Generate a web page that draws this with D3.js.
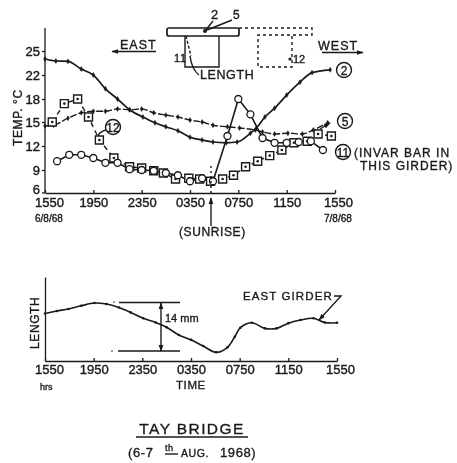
<!DOCTYPE html>
<html lang="en">
<head>
<meta charset="UTF-8">
<title>Tay Bridge</title>
<script src="https://d3js.org/d3.v7.min.js"></script>
<style>
    body { margin: 0; background: #fff; }
    svg { display: block; filter: blur(0.45px); }
    text { font-family: "Liberation Sans", sans-serif; fill: #1a1a1a; font-weight: 700; }
    .axis path, .axis line { stroke: #1a1a1a; stroke-width: 1.3; }
    .axis text { font-size: 13px; font-weight: 400; stroke: #1a1a1a; stroke-width: 0.4; }
    .ink { fill: none; stroke: #1a1a1a; stroke-width: 1.4; }
    .note { font-size: 12px; font-weight: 400; stroke: #1a1a1a; stroke-width: 0.35; letter-spacing: 0.6px; }
</style>
</head>
<body>
<div id="chart"></div>
<script>
    // hours after 1550 on 6/8/68
    const timeTicks = [0, 4, 8, 12, 16, 20, 24];
    const timeLabels = ["1550", "1950", "2350", "0350", "0750", "1150", "1550"];
    const tempTicks = [6, 9, 12, 15, 18, 22, 25];

    const hours2 = [0, 0.9, 1.9, 3, 4, 5, 6, 7, 8.1, 9.1, 10, 11, 12, 13, 13.9, 15, 15.9, 17, 17.5, 18.2, 19, 20, 21.1, 22.1, 23.6];
    const temp2 = [24, 23.75, 23.7, 22.75, 22, 19.7, 18, 16.6, 15.65, 14.9, 14.4, 13.9, 13.1, 12.75, 12.5, 12.4, 12.5, 13.6, 14.25, 15.65, 16.8, 18.65, 20.8, 22.3, 22.65];

    const hours5 = [0, 0.7, 1.9, 3, 4, 5, 6, 7, 8, 9, 10, 11, 12, 13, 13.9, 15.1, 16.1, 17.4, 18, 19, 20.1, 21.3, 22.2, 23.4];
    const temp5 = [14.5, 14.6, 15.5, 16.2, 16.4, 16.4, 16.7, 16.6, 16.7, 16.2, 15.9, 15.65, 15.25, 15, 14.6, 14.4, 14.25, 14, 13.75, 13.5, 13.6, 13.5, 14, 14.9];

    const hours11 = [1, 2, 3, 4, 5, 6, 7, 8, 9, 10, 11, 12, 13, 13.9, 15.1, 16, 17, 18, 19, 20, 21, 22, 23];
    const temp11 = [10.1, 10.9, 10.9, 10.5, 9.9, 9.9, 9.1, 9, 8.9, 8.6, 8.3, 7.5, 7.9, 7.5, 13.25, 18, 16, 13, 12.4, 12.4, 12.5, 12.6, 11.5];

    const hours12 = [0.6, 1.6, 2.7, 3.6, 4.5, 5.7, 7, 8, 9, 9.8, 10.8, 11.9, 12.8, 13.7, 14.7, 15.6, 16.6, 17.6, 18.6, 19.6, 20.6, 21.7, 22.6, 23.7];
    const temp12 = [15, 17.4, 18, 15.65, 12.75, 10.5, 9.4, 9.25, 8.9, 8.6, 7.8, 7.9, 7.8, 7.5, 7.8, 8.3, 9.4, 10.1, 10.8, 11.5, 12.4, 12.6, 13.5, 13.25];

    const lengthHours = [0, 0.97, 1.93, 2.98, 4.06, 5.05, 6.07, 7.04, 8.08, 9.1, 10, 11, 12, 13, 14.07, 15, 15.6, 16.06, 17, 18.07, 19.04, 20, 21, 22.07, 23, 24];
    const lengthMm = [10.8, 11.5, 12.1, 13, 13.8, 13.5, 12.5, 11.1, 9.4, 8.2, 6.8, 4.6, 3.2, 1.4, -0.4, 1.05, 4.1, 6.7, 8.1, 6.5, 6.5, 8, 8.9, 9.4, 8.2, 8.1];

    const width = 457;
    const height = 463;

    const svg = d3.select("#chart").append("svg")
        .attr("width", width)
        .attr("height", height);

    svg.append("defs").append("marker")
        .attr("id", "arrow")
        .attr("viewBox", "0 0 10 10")
        .attr("refX", 9).attr("refY", 5)
        .attr("markerWidth", 5).attr("markerHeight", 5)
        .attr("orient", "auto-start-reverse")
        .append("path")
        .attr("d", "M0,1.5L10,5L0,8.5Z")
        .attr("fill", "#1a1a1a");

    const xTop = d3.scaleLinear().domain([0, 24]).range([45, 335]);
    const yTemp = d3.scaleLinear().domain(tempTicks).range([192.5, 170, 146, 122, 99, 75, 51]);
    const xBottom = d3.scaleLinear().domain([0, 24]).range([45, 337]);
    const yLength = d3.scaleLinear().domain([-2.9, 21.3]).range([361, 277]);

    function zip(hours, values) {
        return hours.map((h, i) => ({ h: h, v: values[i] }));
    }

    // the first and last time labels sit a little inside/outside of their ticks
    function nudgeEnds(g) {
        g.selectAll(".tick text").attr("dx", (d, i) => i === 0 ? 4 : (i === timeTicks.length - 1 ? 3 : 0));
    }

    // axes
    const xAxisTop = d3.axisBottom(xTop)
        .tickValues(timeTicks)
        .tickFormat((d, i) => timeLabels[i])
        .tickSizeInner(-3).tickSizeOuter(0).tickPadding(5);
    svg.append("g").attr("class", "axis").attr("transform", "translate(0,193)").call(xAxisTop).call(nudgeEnds);

    const yAxisTop = d3.axisLeft(yTemp)
        .tickValues(tempTicks)
        .tickFormat(d3.format("d"))
        .tickSizeInner(3).tickSizeOuter(0).tickPadding(2);
    const gy = svg.append("g").attr("class", "axis").attr("transform", "translate(45,0)").call(yAxisTop);
    gy.select(".domain").attr("d", "M0,28V193");
    gy.selectAll(".tick text").filter(d => d === 6).attr("y", -3);

    const xAxisBottom = d3.axisBottom(xBottom)
        .tickValues(timeTicks)
        .tickFormat((d, i) => timeLabels[i])
        .tickSizeInner(-3).tickSizeOuter(0).tickPadding(4);
    svg.append("g").attr("class", "axis").attr("transform", "translate(0,361)").call(xAxisBottom).call(nudgeEnds);

    svg.append("g").attr("class", "axis").attr("transform", "translate(45,0)")
        .call(d3.axisLeft(yLength).tickValues([]).tickSizeOuter(0));

    // temperature lines
    const lineTop = d3.line().x(d => xTop(d.h)).y(d => yTemp(d.v));

    const data2 = zip(hours2, temp2);
    const data5 = zip(hours5, temp5);
    const data11 = zip(hours11, temp11);
    const data12 = zip(hours12, temp12);

    svg.append("path").datum(data12).attr("class", "ink")
        .attr("stroke-dasharray", "5,4")
        .attr("d", lineTop.curve(d3.curveLinear));
    svg.append("path").datum(data11).attr("class", "ink")
        .style("stroke-width", 1.6)
        .attr("d", lineTop.curve(d3.curveLinear));
    svg.append("path").datum(data5).attr("class", "ink")
        .attr("stroke-dasharray", "7,2")
        .attr("d", lineTop.curve(d3.curveMonotoneX));
    svg.append("path").datum(data2).attr("class", "ink")
        .style("stroke-width", 1.7)
        .attr("d", lineTop.curve(d3.curveMonotoneX));

    // small marks on lines 2 and 5
    svg.append("g").selectAll("path")
        .data(data2.concat(data5))
        .enter().append("path")
        .attr("transform", d => `translate(${xTop(d.h)},${yTemp(d.v)})`)
        .attr("d", d3.symbol(d3.symbolDiamond, 7))
        .attr("fill", "#1a1a1a")
        .attr("stroke", "#1a1a1a")
        .attr("stroke-width", 0.5);

    // squares (12) with a dot in the middle
    const squares = svg.append("g").selectAll("g")
        .data(data12).enter().append("g")
        .attr("transform", d => `translate(${xTop(d.h)},${yTemp(d.v)})`);
    squares.append("path")
        .attr("d", d3.symbol(d3.symbolSquare, 64))
        .attr("fill", "#fff").attr("stroke", "#1a1a1a").attr("stroke-width", 1.4);
    squares.append("circle").attr("r", 1.3).attr("fill", "#1a1a1a");

    // circles (11)
    svg.append("g").selectAll("circle")
        .data(data11).enter().append("circle")
        .attr("cx", d => xTop(d.h))
        .attr("cy", d => yTemp(d.v))
        .attr("r", 3.5)
        .attr("fill", "#fff")
        .attr("stroke", "#1a1a1a")
        .attr("stroke-width", 1.3);

    // length line
    const dataLength = zip(lengthHours, lengthMm);
    const lineBottom = d3.line().x(d => xBottom(d.h)).y(d => yLength(d.v)).curve(d3.curveCatmullRom);
    svg.append("path").datum(dataLength).attr("class", "ink")
        .style("stroke-width", 1.6)
        .attr("d", lineBottom);
    svg.append("g").selectAll("circle")
        .data(dataLength).enter().append("circle")
        .attr("cx", d => xBottom(d.h))
        .attr("cy", d => yLength(d.v))
        .attr("r", 1.3)
        .attr("fill", "#1a1a1a");

    // annotation helpers
    function note(x, y, str, size, anchor) {
        return svg.append("text").attr("class", "note")
            .attr("x", x).attr("y", y)
            .attr("text-anchor", anchor || "start")
            .style("font-size", (size || 12) + "px")
            .text(str);
    }
    function seg(d, dash, arrowEnd, arrowStart) {
        const p = svg.append("path").attr("class", "ink").attr("d", d);
        if (dash) p.attr("stroke-dasharray", dash);
        if (arrowEnd) p.attr("marker-end", "url(#arrow)");
        if (arrowStart) p.attr("marker-start", "url(#arrow)");
        return p;
    }
    function ringed(x, y, str) {
        svg.append("circle").attr("class", "ink").attr("cx", x).attr("cy", y).attr("r", 7.5);
        note(x, y + 4.5, str, 12, "middle").style("letter-spacing", "0px");
    }

    // girder sketch
    svg.append("rect").attr("class", "ink").style("stroke-width", 1.7)
        .attr("x", 167).attr("y", 28).attr("width", 72).attr("height", 8).attr("rx", 2);
    seg("M185,36V67H219V36");
    seg("M239,28H312V35H258V67H292V36", "3,3");
    seg("M186,36L191,56", "3,2");
    seg("M190,56Q192,70 199,75");
    seg("M205,31L213,21");
    seg("M207,30L232,20");
    svg.append("circle").attr("cx", 205).attr("cy", 31).attr("r", 2).attr("fill", "#1a1a1a");
    svg.append("circle").attr("cx", 290).attr("cy", 59).attr("r", 1.6).attr("fill", "#1a1a1a");
    note(211, 19, "2", 13);
    note(233, 19, "5", 12);
    note(174, 62, "11", 11);
    note(293, 63, "12", 11).style("letter-spacing", "0px");
    note(200, 79, "LENGTH", 12.5).style("letter-spacing", "0.6px");

    // directions
    note(120, 49, "EAST", 12.5).style("letter-spacing", "1px");
    seg("M156,51.5H112", null, true);
    note(318, 50, "WEST", 12.5).style("letter-spacing", "1px");
    seg("M322,52.5H363", null, true);

    // series tags
    ringed(344, 70, "2");
    ringed(345, 121, "5");
    ringed(113, 127, "12");
    seg("M106,130Q99,132 98,136");
    ringed(343, 152, "11");
    note(354, 157, "(INVAR BAR IN", 12).style("letter-spacing", "1px");
    note(360, 170, "THIS  GIRDER)", 12).style("letter-spacing", "1px");
    seg("M320,129L330,123", null, true);

    // dates and sunrise
    note(35, 222, "6/8/68", 10).style("letter-spacing", "0px");
    note(324, 222, "7/8/68", 10).style("letter-spacing", "0px");
    seg("M211,166V193", "2,3");
    seg("M211,226V198", null, true);
    note(179, 236, "(SUNRISE)", 12);

    svg.append("text").attr("class", "note")
        .attr("transform", "translate(22,146) rotate(-90)")
        .style("font-size", "12px")
        .text("TEMP. °C");

    // length panel notes
    svg.append("text").attr("class", "note")
        .attr("transform", "translate(39,349) rotate(-90)")
        .style("font-size", "12px")
        .text("LENGTH");
    seg("M119,302.5H180");
    seg("M118,351H180");
    seg("M161,303V351", null, true, true);
    svg.append("circle").attr("cx", 112).attr("cy", 351).attr("r", 0.8).attr("fill", "#1a1a1a");
    svg.append("circle").attr("cx", 114).attr("cy", 302).attr("r", 0.8).attr("fill", "#1a1a1a");
    note(165, 322, "14 mm", 11).style("letter-spacing", "0px");
    note(243, 300, "EAST  GIRDER", 11.5).style("letter-spacing", "1.1px");
    seg("M334,296H341L319,320", null, true);
    note(40, 390, "hrs", 9).style("letter-spacing", "0px");
    note(176, 389, "TIME", 11.5);

    // title
    note(192, 434, "TAY  BRIDGE", 15.5, "middle").style("letter-spacing", "1.4px");
    seg("M136,437H248");
    note(128, 457, "(6-7", 13);
    note(165, 451, "th", 9);
    seg("M165,454H178");
    note(181, 457, "AUG.", 10.5);
    note(220, 457, "1968)", 13);
</script>
</body>
</html>
